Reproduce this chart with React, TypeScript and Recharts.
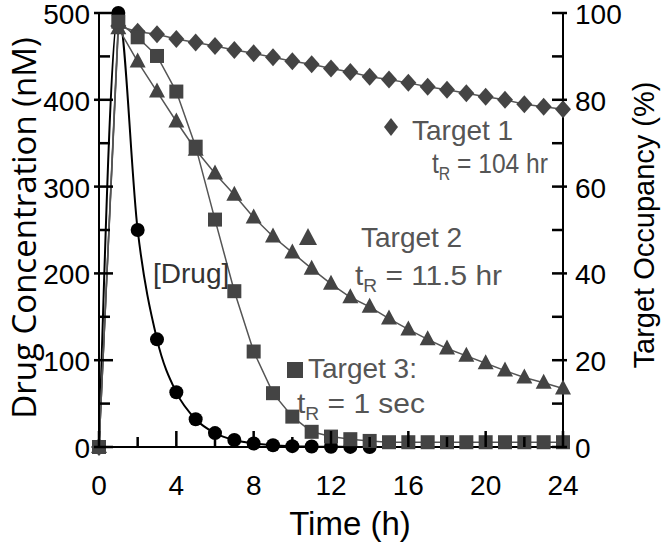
import { ComposedChart, Line, XAxis, YAxis } from "recharts";

// time in hours
const hours = [0, 1, 2, 3, 4, 5, 6, 7, 8, 9, 10, 11, 12, 13, 14, 15, 16, 17, 18, 19, 20, 21, 22, 23, 24];

// [Drug] in nM (left axis)
const drugConc = [0, 500, 250, 124, 63, 32, 16, 8, 4, 2, 1, 0.5, 0.25, 0.12, 0.06, null, null, null, null, null, null, null, null, null, null];

// target occupancy in % (right axis)
const target1 = [0, 97, 95.7, 95.1, 94.0, 93.2, 92.4, 91.5, 90.7, 89.8, 88.9, 88.2, 87.2, 86.4, 85.3, 84.7, 83.9, 83.0, 82.3, 81.5, 80.7, 80.0, 79.0, 78.4, 77.8];
const target2 = [0, 96.5, 88.8, 81.9, 75.0, 68.5, 63.0, 58.1, 52.9, 48.5, 44.8, 41.1, 37.6, 34.5, 32.3, 29.6, 27.1, 24.8, 22.7, 21.0, 19.3, 17.6, 16.0, 14.8, 13.5];
const target3 = [0, 98, 94.4, 90.1, 81.9, 69.2, 52.4, 35.9, 22.0, 12.4, 7.0, 3.5, 2.4, 1.8, 1.4, 1.1, 1.1, 1.1, 1.1, 1.1, 1.1, 1.1, 1.1, 1.1, 1.1];

const timeTicks = [0, 2, 4, 6, 8, 10, 12, 14, 16, 18, 20, 22, 24];
const timeLabels = [0, 4, 8, 12, 16, 20, 24];
const concTicks = [0, 50, 100, 150, 200, 250, 300, 350, 400, 450, 500];
const concLabels = [0, 100, 200, 300, 400, 500];
const occTicks = [0, 10, 20, 30, 40, 50, 60, 70, 80, 90, 100];
const occLabels = [0, 20, 40, 60, 80, 100];

const data = hours.map((t, i) => ({
  t,
  drug: drugConc[i],
  t1: target1[i],
  t2: target2[i],
  t3: target3[i],
}));

const FONT = "'Liberation Sans', Arial, sans-serif";
const MARK = "#444";
const LINE = "#555";
const TEXT = "#555";
const TICKC = "#000";
const AXIS = { stroke: "#000", strokeWidth: 2 };

// tick marks point inward, labels sit outside the frame
function BottomTick(props: any) {
  const { x, y, payload } = props;
  const major = timeLabels.includes(payload.value);
  return (
    <g>
      <rect x={x - 1.25} y={y - (major ? 16 : 10)} width={2.5} height={major ? 16 : 10} fill={TICKC} />
      {major && (
        <text x={x} y={y + 48} textAnchor="middle" fontSize={28} fontFamily={FONT} fill="#000">
          {payload.value}
        </text>
      )}
    </g>
  );
}

function TopTick(props: any) {
  const { x, y } = props;
  return <rect x={x - 1.25} y={y} width={2.5} height={16} fill={TICKC} />;
}

function LeftTick(props: any) {
  const { x, y, payload } = props;
  const major = concLabels.includes(payload.value);
  return (
    <g>
      <rect x={major ? x - 5 : x} y={y - 1.25} width={major ? 19 : 11} height={2.5} fill={TICKC} />
      {major && (
        <text x={x - 9} y={y + 11} textAnchor="end" fontSize={28} fontFamily={FONT} fill="#000">
          {payload.value}
        </text>
      )}
    </g>
  );
}

function RightTick(props: any) {
  const { x, y, payload } = props;
  const major = occLabels.includes(payload.value);
  return (
    <g>
      <rect x={x - 11} y={y - 1.25} width={major ? 15 : 11} height={2.5} fill={TICKC} />
      {major && (
        <text x={x + 12} y={y + 11} textAnchor="start" fontSize={28} fontFamily={FONT} fill="#000">
          {payload.value}
        </text>
      )}
    </g>
  );
}

const circleDot = (p: any) =>
  p.cy == null ? <g key={`c${p.index}`} /> : <circle key={`c${p.index}`} cx={p.cx} cy={p.cy} r={7} fill="#000" />;

const diamondDot = (p: any) =>
  p.cy == null ? (
    <g key={`d${p.index}`} />
  ) : (
    <polygon
      key={`d${p.index}`}
      points={`${p.cx},${p.cy - 9} ${p.cx + 8},${p.cy} ${p.cx},${p.cy + 9} ${p.cx - 8},${p.cy}`}
      fill={MARK}
    />
  );

const triangleDot = (p: any) =>
  p.cy == null ? (
    <g key={`t${p.index}`} />
  ) : (
    <polygon
      key={`t${p.index}`}
      points={`${p.cx},${p.cy - 9} ${p.cx + 8},${p.cy + 6} ${p.cx - 8},${p.cy + 6}`}
      fill={MARK}
    />
  );

const squareDot = (p: any) =>
  p.cy == null ? (
    <g key={`s${p.index}`} />
  ) : (
    <rect key={`s${p.index}`} x={p.cx - 7} y={p.cy - 7} width={14} height={14} fill={MARK} />
  );

function Sub({ x, y, rest, width }: { x: number; y: number; rest: string; width: number }) {
  return (
    <text x={x} y={y} fontSize={28} fontFamily={FONT} fill={TEXT} textLength={width} lengthAdjust="spacingAndGlyphs">
      t
      <tspan fontSize={18} dy={7}>R</tspan>
      <tspan dy={-7}>{rest}</tspan>
    </text>
  );
}

export default function App() {
  return (
    <div style={{ position: "absolute", left: 0, top: 0, width: 668, height: 548, background: "#fff" }}>
      <ComposedChart width={668} height={548} data={data} margin={{ top: 13, right: 0, bottom: 0, left: 0 }}>
        <XAxis
          xAxisId="bottom"
          dataKey="t"
          type="number"
          domain={[0, 24]}
          ticks={timeTicks}
          interval={0}
          height={101}
          tickSize={0}
          tickMargin={0}
          tick={<BottomTick />}
          axisLine={AXIS}
          tickLine={false}
        />
        <XAxis
          xAxisId="top"
          orientation="top"
          dataKey="t"
          type="number"
          domain={[0, 24]}
          ticks={timeTicks}
          interval={0}
          height={0}
          tickSize={0}
          tickMargin={0}
          tick={<TopTick />}
          axisLine={AXIS}
          tickLine={false}
        />
        <YAxis
          yAxisId="left"
          type="number"
          domain={[0, 500]}
          ticks={concTicks}
          interval={0}
          width={99}
          tickSize={0}
          tickMargin={0}
          tick={<LeftTick />}
          axisLine={AXIS}
          tickLine={false}
        />
        <YAxis
          yAxisId="right"
          orientation="right"
          type="number"
          domain={[0, 100]}
          ticks={occTicks}
          interval={0}
          width={105}
          tickSize={0}
          tickMargin={0}
          tick={<RightTick />}
          axisLine={AXIS}
          tickLine={false}
        />
        <Line
          xAxisId="bottom"
          yAxisId="left"
          type="monotone"
          dataKey="drug"
          stroke="#000"
          strokeWidth={2}
          dot={circleDot}
          activeDot={false}
          isAnimationActive={false}
        />
        <Line
          xAxisId="bottom"
          yAxisId="right"
          type="linear"
          dataKey="t2"
          stroke={LINE}
          strokeWidth={1.5}
          dot={triangleDot}
          activeDot={false}
          isAnimationActive={false}
        />
        <Line
          xAxisId="bottom"
          yAxisId="right"
          type="linear"
          dataKey="t1"
          stroke={LINE}
          strokeWidth={1.5}
          dot={diamondDot}
          activeDot={false}
          isAnimationActive={false}
        />
        <Line
          xAxisId="top"
          yAxisId="right"
          type="linear"
          dataKey="t3"
          stroke={LINE}
          strokeWidth={1.5}
          dot={squareDot}
          activeDot={false}
          isAnimationActive={false}
        />
      </ComposedChart>

      <svg width={668} height={548} style={{ position: "absolute", left: 0, top: 0, pointerEvents: "none" }}>
        <text
          transform="translate(36,228) rotate(-90)"
          textAnchor="middle"
          fontSize={33}
          fontFamily="'Open Sans', sans-serif"
          fill="#000"
        >
          Drug Concentration (nM)
        </text>
        <text
          transform="translate(654,225) rotate(-90)"
          textAnchor="middle"
          fontSize={29}
          fontFamily={FONT}
          fill="#000"
        >
          Target Occupancy (%)
        </text>
        <text x={350} y={535} textAnchor="middle" fontSize={33} fontFamily={FONT} fill="#000">
          Time (h)
        </text>

        <text x={153} y={283} fontSize={28} fontFamily={FONT} fill="#333">
          [Drug]
        </text>

        <polygon points="391,118 398,127 391,136 384,127" fill={MARK} />
        <text x={412} y={140} fontSize={28} fontFamily={FONT} fill={TEXT}>
          Target 1
        </text>
        <Sub x={432} y={173} rest=" = 104 hr" width={116} />

        <polygon points="308,228 317,245 299,245" fill={MARK} />
        <text x={361} y={247} fontSize={28} fontFamily={FONT} fill={TEXT}>
          Target 2
        </text>
        <Sub x={355} y={285} rest=" = 11.5 hr" width={147} />

        <rect x={287} y={362} width={16} height={16} fill={MARK} />
        <text x={308} y={378} fontSize={28} fontFamily={FONT} fill={TEXT}>
          Target 3:
        </text>
        <Sub x={297} y={413} rest=" = 1 sec" width={128} />
      </svg>
    </div>
  );
}
